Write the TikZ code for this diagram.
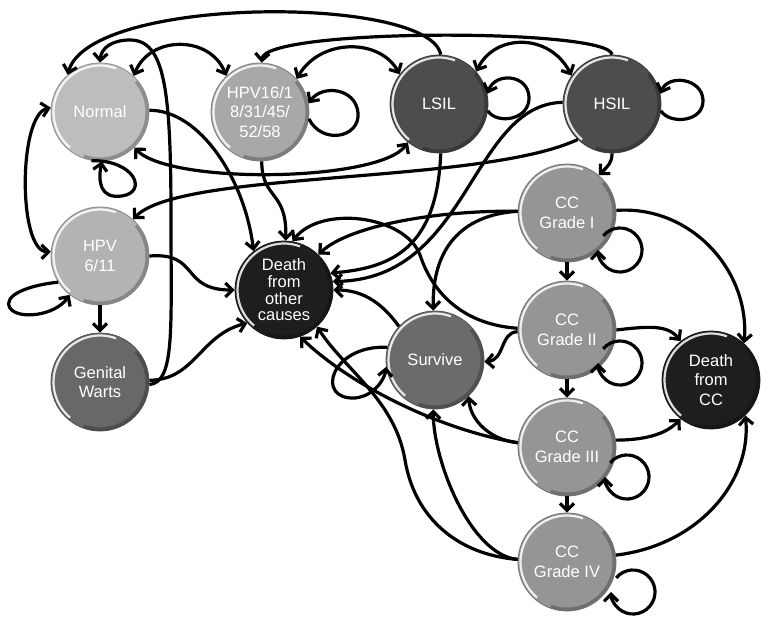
\documentclass[tikz,border=0pt]{standalone}
\usepackage{fontspec}
\newfontfamily\arial{Liberation Sans}
\usetikzlibrary{arrows.meta,calc}
\definecolor{cNormal}{HTML}{BDBDBD}
\definecolor{cHpvA}{HTML}{A8A8A8}
\definecolor{cHpvB}{HTML}{B3B3B3}
\definecolor{cSil}{HTML}{4D4D4D}
\definecolor{cCC}{HTML}{959595}
\definecolor{cSurv}{HTML}{6B6B6B}
\definecolor{cGW}{HTML}{686868}
\definecolor{cDeath}{HTML}{1E1E1E}
\newcommand\ccloop[3]{\draw[arr] ($(#1)+(#2,#3)+(140:22pt)$) arc[start angle=140, end angle=-180, radius=22pt];}
\begin{document}
\begin{tikzpicture}[x=1pt,y=-1pt,
  ball/.style={circle, minimum size=98pt, inner sep=0pt, fill=#1, draw=#1!75!black, line width=0.8pt,
    text=white, align=center, font=\arial\fontsize{16.5}{19.5}\selectfont,
    path picture={
      \draw[white, line width=2.2pt, opacity=0.85] ($(path picture bounding box.center)+(70:46.5pt)$) arc[start angle=70, end angle=230, radius=46.5pt];
      \draw[black, line width=5pt, opacity=0.25] ($(path picture bounding box.center)+(-110:48pt)$) arc[start angle=-110, end angle=40, radius=48pt];
    }},
  arr/.style={-{Straight Barb[length=7pt,width=14pt]}, line width=3.2pt},
  barr/.style={{Straight Barb[length=7pt,width=14pt]}-{Straight Barb[length=7pt,width=14pt]}, line width=3.2pt},
]
\fill[white] (0,0) rectangle (771,623);
\useasboundingbox (0,0) rectangle (771,623);

% nodes
\node[ball=cNormal] (N) at (100,112) {Normal};
\node[ball=cHpvA] (H16) at (260,112) {HPV16/1\\8/31/45/\\52/58};
\node[ball=cSil] (L) at (439,104) {LSIL};
\node[ball=cSil] (Hs) at (612,104) {HSIL};
\node[ball=cCC] (C1) at (567,213) {CC\\Grade I};
\node[ball=cCC] (C2) at (567,330) {CC\\Grade II};
\node[ball=cCC] (C3) at (567,447) {CC\\Grade III};
\node[ball=cCC] (C4) at (567,562) {CC\\Grade IV};
\node[ball=cDeath] (DC) at (711,380) {Death\\from\\CC};
\node[ball=cSurv] (S) at (435,360) {Survive};
\node[ball=cDeath, font=\arial\fontsize{16.5}{16.7}\selectfont] (D) at (284,290) {Death\\from\\other\\causes};
\node[ball=cHpvB] (H6) at (100,256) {HPV\\6/11};
\node[ball=cGW] (GW) at (100,382) {Genital\\Warts};

% top connectors
\draw[arr] (L.88) .. controls (430,-5) and (90,-5) .. (N.131);
\draw[arr] (GW.-3) .. controls (175,382) and (171,330) .. (171,220) .. controls (171,90) and (165,40) .. (130,40) .. controls (112,40) and (101,48) .. (N.90);
\draw[barr] (N.47) .. controls (150,35) and (210,35) .. (H16.133);
\draw[arr] (Hs.90) .. controls (610,28) and (264,28) .. (H16.88);
\draw[barr] (H16.42) .. controls (320,38) and (380,38) .. (L.143);
\draw[barr] (L.41) .. controls (495,33) and (550,33) .. (Hs.145);
\draw[barr] (N.-46) .. controls (170,185) and (380,182) .. (L.231);
\draw[arr] (Hs.226) .. controls (480,185) and (180,170) .. (H6.48);
\draw[barr] (N.175) .. controls (18,115) and (18,252) .. (H6.175);

% left side
\draw[arr] (H6) -- (GW);
\draw[arr] (H6.212) .. controls (30,285) and (2,295) .. (10,308) .. controls (18,320) and (55,316) .. (H6.232);
\draw[arr] (H6.0) .. controls (200,252) and (180,290) .. (D.180);
\draw[arr] (GW.2) .. controls (195,380) and (200,335) .. (D.222);
\draw[arr] (N.2) .. controls (200,110) and (245,180) .. (D.128);
\draw[arr] (H16.-88) .. controls (262,200) and (287,190) .. (D.88);
\draw[arr] (Hs.-90) .. controls (612,163) and (608,166) .. (C1.50);

% self loops
\draw[arr] (N.-100) .. controls (135,160) and (148,192) .. (122,196) .. controls (100,199) and (98,182) .. (N.-88);
\draw[arr] (H16.-8) .. controls (322,145) and (360,138) .. (358,113) .. controls (356,88) and (322,84) .. (H16.10);
\draw[arr] (L.-8) .. controls (497,125) and (530,120) .. (529,97) .. controls (528,74) and (495,72) .. (L.12);
\draw[arr] (Hs.-8) .. controls (670,125) and (704,122) .. (703,100) .. controls (702,78) and (668,74) .. (Hs.12);
\ccloop{C1}{53}{37}
\ccloop{C2}{53}{33}
\ccloop{C3}{60}{30}
\ccloop{C4}{66}{30}
\draw[arr] (S.165) .. controls (330,345) and (315,400) .. (355,398) .. controls (375,396) and (385,378) .. (S.188);

% CC chain
\draw[arr] (C1) -- (C2);
\draw[arr] (C2) -- (C3);
\draw[arr] (C3) -- (C4);
\draw[arr] (C1.3) .. controls (690,205) and (750,270) .. (DC.48);
\draw[arr] (C2.0) .. controls (650,326) and (668,325) .. (DC.128);
\draw[arr] (C3.8) .. controls (650,440) and (668,432) .. (DC.232);
\draw[arr] (C4.8) .. controls (700,545) and (752,480) .. (DC.314);

% towards Survive and Death
\draw[arr] (C1.178) .. controls (460,215) and (432,250) .. (S.92);
\draw[arr] (C1.178) .. controls (440,210) and (350,225) .. (D.46);
\draw[arr] (C2.178) .. controls (470,325) and (435,300) .. (420,255) .. controls (405,215) and (320,205) .. (D.80);
\draw[arr] (C2.182) .. controls (500,332) and (505,360) .. (S.-2);
\draw[arr] (S.137) .. controls (380,300) and (360,290) .. (D.0);
\draw[arr] (C3.175) .. controls (490,440) and (470,420) .. (S.-47);
\draw[arr] (C3.175) .. controls (440,430) and (350,385) .. (D.-71);
\draw[arr] (C4.177) .. controls (470,555) and (433,460) .. (S.-92);
\draw[arr] (C4.177) .. controls (460,555) and (415,520) .. (405,460) .. controls (395,400) and (345,370) .. (D.-48);
\draw[arr] (L.-88) .. controls (437,250) and (390,268) .. (D.20);
\draw[arr] (Hs.178) .. controls (470,105) and (470,280) .. (D.10);
\end{tikzpicture}
\end{document}
